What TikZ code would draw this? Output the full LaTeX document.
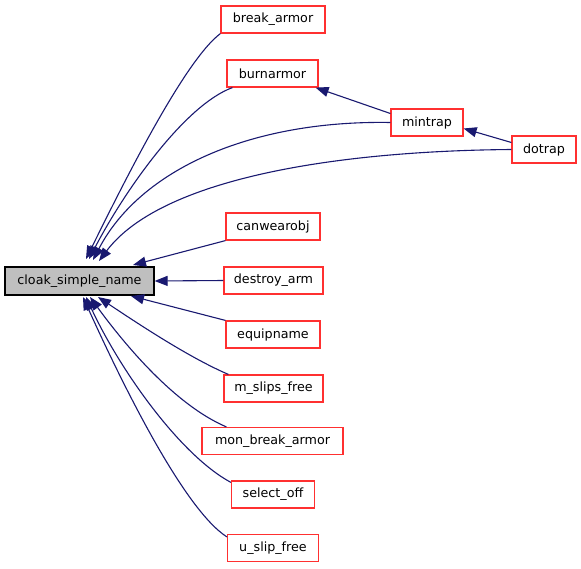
\documentclass[tikz,border=0pt]{standalone}
\usepackage{fontspec}
\setmainfont{DejaVu Sans}
\usetikzlibrary{arrows.meta}
\definecolor{edgeblue}{HTML}{191970}
\definecolor{boxred}{HTML}{FF3030}
\definecolor{grey75}{HTML}{BFBFBF}
\tikzset{
  fn/.style={draw=boxred, line width=1.2pt, fill=white, inner sep=0pt, minimum height=27pt, font=\fontsize{12.7}{14}\selectfont},
  mainfn/.style={draw=black, line width=1.2pt, fill=grey75, inner sep=0pt, minimum height=28pt, font=\fontsize{12.7}{14}\selectfont},
  edge/.style={draw=edgeblue, line width=1.1pt, -{Triangle[length=13pt,width=10pt]}},
}
\begin{document}
\begin{tikzpicture}[x=1pt,y=-1pt]
\useasboundingbox (0,0) rectangle (581,568);
\node[mainfn, minimum width=149pt] (cloak) at (79.5,281) {cloak\_simple\_name};
\node[fn, minimum width=104pt] (breakarmor) at (273,19.5) {break\_armor};
\node[fn, minimum width=91pt] (burnarmor) at (272.5,73.5) {burnarmor};
\node[fn, minimum width=72pt] (mintrap) at (427,122.5) {mintrap};
\node[fn, minimum width=64pt] (dotrap) at (544,149.5) {dotrap};
\node[fn, minimum width=94pt] (canwearobj) at (273,226.5) {canwearobj};
\node[fn, minimum width=99pt] (destroyarm) at (273.5,280.5) {destroy\_arm};
\node[fn, minimum width=94pt] (equipname) at (273,334.5) {equipname};
\node[fn, minimum width=99pt] (mslipsfree) at (273.5,388.5) {m\_slips\_free};
\node[fn, minimum width=141pt] (monbreakarmor) at (272.5,441) {mon\_break\_armor};
\node[fn, minimum width=83pt] (selectoff) at (273,494.5) {select\_off};
\node[fn, minimum width=91pt] (uslipfree) at (273,548) {u\_slip\_free};

\coordinate (tA) at (86,259);
\coordinate (tB) at (89,259);
\coordinate (tC) at (93,260);
\coordinate (tD) at (99,261);
\coordinate (tE) at (133,265);
\coordinate (bA) at (83,297);
\coordinate (bB) at (86,297);
\coordinate (bC) at (90,297);
\coordinate (bD) at (98,297);
\coordinate (bE) at (131,296);

\draw[edge] (breakarmor.south west) .. controls (185,60) and (125,180) .. (tA);
\draw[edge] ([xshift=6pt]burnarmor.south west) .. controls (185,105) and (125,190) .. (tB);
\draw[edge] (mintrap.west) .. controls (250,120) and (140,170) .. (tC);
\draw[edge] (dotrap.west) .. controls (330,151) and (160,180) .. (tD);
\draw[edge] (canwearobj.south west) -- (tE);
\draw[edge] (destroyarm.west) -- (cloak.east);
\draw[edge] (equipname.north west) -- (bE);
\draw[edge] ([xshift=5pt]mslipsfree.north west) .. controls (190,358) and (140,325) .. (bD);
\draw[edge] ([xshift=25pt]monbreakarmor.north west) .. controls (175,405) and (125,345) .. (bC);
\draw[edge] ([yshift=-2pt]selectoff.north west) .. controls (180,455) and (120,370) .. (bB);
\draw[edge] ([yshift=-3pt]uslipfree.north west) .. controls (185,510) and (125,390) .. (bA);
\draw[edge] ([yshift=9pt]mintrap.west) -- ([xshift=-3pt]burnarmor.south east);
\draw[edge] ([yshift=7pt]dotrap.west) -- ([yshift=-6pt]mintrap.east);
\end{tikzpicture}
\end{document}
